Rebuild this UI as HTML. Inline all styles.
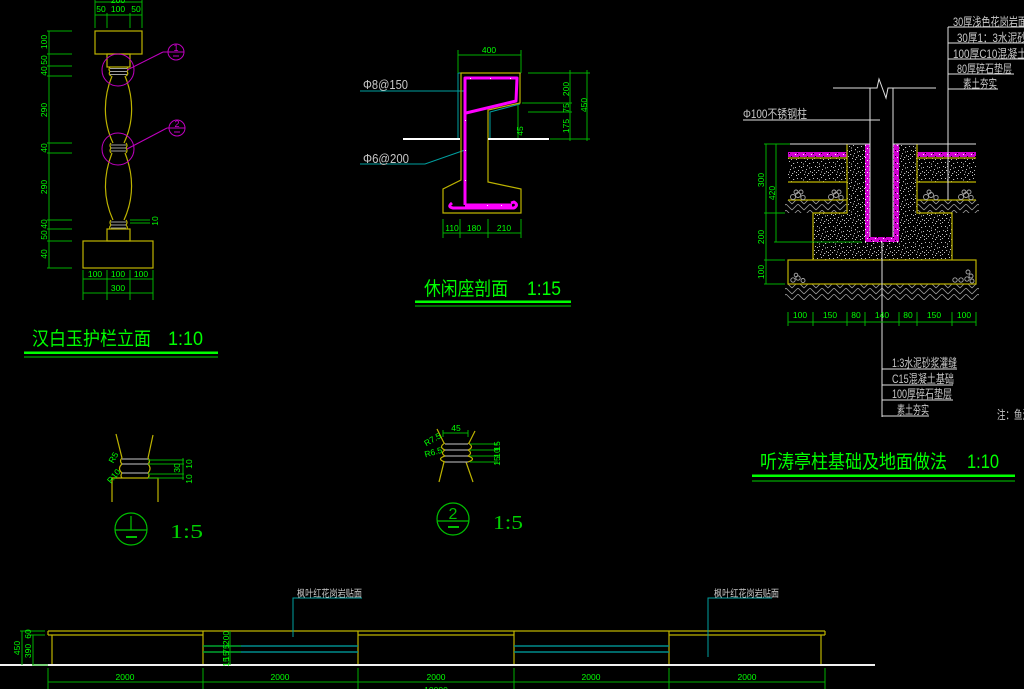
<!DOCTYPE html>
<html><head><meta charset="utf-8">
<style>
html,body{margin:0;padding:0;background:#000;width:1024px;height:689px;overflow:hidden}
svg{display:block}
text{font-family:"Liberation Sans","Noto Sans CJK SC",sans-serif}
.d{font-size:8.5px;fill:#00ff00}
.g{font-size:12px;fill:#c8c8c8}
.t{font-size:19px;fill:#00ff00}
.s{font-size:20px;fill:#00d000;font-family:"Liberation Serif",serif}
</style></head><body>
<svg width="1024" height="689" viewBox="0 0 1024 689" xmlns="http://www.w3.org/2000/svg">
<defs>
<pattern id="spk" width="16" height="16" patternUnits="userSpaceOnUse">
<rect width="16" height="16" fill="#000"/>
<g fill="#c4c4c4">
<rect x="1" y="2" width="1" height="1"/><rect x="5" y="1" width="1" height="1"/><rect x="9" y="3" width="1.2" height="1"/><rect x="13" y="2" width="1" height="1"/>
<rect x="3" y="6" width="1" height="1"/><rect x="7" y="5" width="1" height="1.2"/><rect x="11" y="7" width="1" height="1"/><rect x="15" y="6" width="1" height="1"/>
<rect x="2" y="10" width="1.2" height="1"/><rect x="6" y="9" width="1" height="1"/><rect x="10" y="11" width="1" height="1.2"/><rect x="14" y="10" width="1" height="1"/>
<rect x="4" y="14" width="1" height="1"/><rect x="8" y="13" width="1.2" height="1"/><rect x="12" y="15" width="1" height="1"/><rect x="0" y="12" width="1" height="1"/>
<rect x="12" y="12" width="1" height="1"/><rect x="5" y="11.5" width="1" height="1"/><rect x="9" y="7.5" width="1" height="1"/><rect x="3" y="3.5" width="1" height="1"/>
<rect x="14" y="14" width="1" height="1"/><rect x="7" y="15" width="1" height="1"/><rect x="1" y="7" width="1" height="1"/>
</g>
</pattern>
<pattern id="mspk" width="8" height="6" patternUnits="userSpaceOnUse">
<rect width="8" height="6" fill="#d000d0"/>
<rect x="1" y="1" width="1" height="1" fill="#fff"/><rect x="5" y="3" width="1" height="1" fill="#000"/><rect x="3" y="4" width="1" height="1" fill="#fff"/><rect x="7" y="0" width="1" height="1" fill="#000"/>
</pattern>
<pattern id="hat" width="12" height="6" patternUnits="userSpaceOnUse">
<rect width="12" height="6" fill="#000"/>
<path d="M0,6 L6,0 M6,0 L12,6 M-3,3 L0,0 M12,0 L15,3" stroke="#9a9a9a" stroke-width="0.8" fill="none"/>
</pattern>
</defs>
<rect width="1024" height="689" fill="#000"/>

<!-- ============ BALUSTER ============ -->
<g stroke="#bdb300" fill="none" stroke-width="1.2">
<rect x="95" y="31" width="47" height="23"/>
<rect x="107" y="54" width="23" height="13"/>
<path d="M112,76 C103,98 103,122 113,143"/>
<path d="M125,76 C134,98 134,122 124,143"/>
<path d="M112,153 C103,176 103,198 113,220"/>
<path d="M125,153 C134,176 134,198 124,220"/>
<rect x="107" y="229" width="23" height="12"/>
<rect x="83" y="241" width="70" height="27"/>
<path d="M110,67 Q108,69.5 110,71.5 Q108,74 111,76"/>
<path d="M127,67 Q129,69.5 127,71.5 Q129,74 126,76"/>
<path d="M111,143 Q109,145.5 111,148 Q109,150.5 111,153"/>
<path d="M126,143 Q128,145.5 126,148 Q128,150.5 126,153"/>
<path d="M111,220 Q109,222.5 111,225 Q109,227 110,229"/>
<path d="M126,220 Q128,222.5 126,225 Q128,227 127,229"/>
</g>
<g stroke="#a0a0a0" stroke-width="1">
<line x1="110" y1="68.5" x2="127" y2="68.5"/><line x1="110" y1="71.5" x2="127" y2="71.5"/><line x1="110" y1="74.5" x2="127" y2="74.5"/>
<line x1="111" y1="145" x2="126" y2="145"/><line x1="111" y1="148" x2="126" y2="148"/><line x1="111" y1="151" x2="126" y2="151"/>
<line x1="111" y1="222" x2="126" y2="222"/><line x1="111" y1="225" x2="126" y2="225"/><line x1="111" y1="228" x2="126" y2="228"/>
</g>
<g stroke="#00b000" stroke-width="1">
<line x1="49" y1="31" x2="49" y2="268"/>
<line x1="47" y1="31" x2="72" y2="31"/><line x1="47" y1="54" x2="72" y2="54"/><line x1="47" y1="66" x2="72" y2="66"/><line x1="47" y1="76" x2="72" y2="76"/>
<line x1="47" y1="143" x2="72" y2="143"/><line x1="47" y1="153" x2="72" y2="153"/><line x1="47" y1="220" x2="72" y2="220"/><line x1="47" y1="229" x2="72" y2="229"/>
<line x1="47" y1="241" x2="72" y2="241"/><line x1="47" y1="268" x2="72" y2="268"/>
<line x1="95" y1="2" x2="142" y2="2"/><line x1="95" y1="15" x2="142" y2="15"/>
<line x1="95" y1="0" x2="95" y2="28"/><line x1="142" y1="0" x2="142" y2="28"/>
<line x1="107" y1="13" x2="107" y2="28"/><line x1="130" y1="13" x2="130" y2="28"/>
<line x1="83" y1="270" x2="83" y2="300"/><line x1="153" y1="270" x2="153" y2="300"/>
<line x1="107" y1="270" x2="107" y2="300"/><line x1="130" y1="270" x2="130" y2="300"/>
<line x1="83" y1="279" x2="153" y2="279"/><line x1="83" y1="293" x2="153" y2="293"/>
<line x1="130" y1="220" x2="150" y2="220"/><line x1="130" y1="223" x2="150" y2="223"/>
</g>
<text class="d" x="118" y="3" text-anchor="middle">200</text>
<text class="d" x="101" y="12" text-anchor="middle">50</text>
<text class="d" x="118" y="12" text-anchor="middle">100</text>
<text class="d" x="136" y="12" text-anchor="middle">50</text>
<text class="d" x="95" y="277" text-anchor="middle">100</text>
<text class="d" x="118" y="277" text-anchor="middle">100</text>
<text class="d" x="141" y="277" text-anchor="middle">100</text>
<text class="d" x="118" y="291" text-anchor="middle">300</text>
<g class="d" text-anchor="middle">
<text transform="translate(47,42) rotate(-90)">100</text>
<text transform="translate(47,60) rotate(-90)">50</text>
<text transform="translate(47,71) rotate(-90)">40</text>
<text transform="translate(47,110) rotate(-90)">290</text>
<text transform="translate(47,148) rotate(-90)">40</text>
<text transform="translate(47,187) rotate(-90)">290</text>
<text transform="translate(47,224) rotate(-90)">40</text>
<text transform="translate(47,235) rotate(-90)">50</text>
<text transform="translate(47,254) rotate(-90)">40</text>
<text transform="translate(158,221) rotate(-90)">10</text>
</g>
<g stroke="#c000c0" fill="none" stroke-width="1">
<circle cx="118" cy="70" r="16"/>
<line x1="127" y1="70" x2="163" y2="52"/>
<line x1="163" y1="52" x2="184" y2="52"/>
<circle cx="176" cy="52" r="8"/>
<circle cx="118" cy="149" r="16"/>
<line x1="127" y1="149" x2="167" y2="128"/>
<line x1="167" y1="128" x2="185" y2="128"/>
<circle cx="177" cy="128" r="8"/>
<line x1="173" y1="56" x2="179" y2="56"/>
<line x1="174" y1="132" x2="180" y2="132"/>
</g>
<text x="176" y="51" font-size="9" fill="#d000d0" text-anchor="middle">1</text>
<text x="177" y="127" font-size="9" fill="#d000d0" text-anchor="middle">2</text>
<text class="t" x="32" y="345" textLength="119" lengthAdjust="spacingAndGlyphs">汉白玉护栏立面</text>
<text class="t" x="168" y="345" textLength="35" lengthAdjust="spacingAndGlyphs">1:10</text>
<rect x="24" y="351.5" width="194" height="2.5" fill="#00ff00"/>
<rect x="24" y="356.5" width="194" height="1" fill="#00d000"/>

<!-- ============ SEAT SECTION ============ -->
<g stroke="#00a0a0" fill="none" stroke-width="1">
<polyline points="458,139 458,73 521,73"/>
<polyline points="490,139 490,112 520,104"/>
<line x1="360" y1="91" x2="464" y2="91"/>
<polyline points="360,164 425,164 465,150"/>
</g>
<polygon points="461,73 520,73 520,103 488,110 488,182 521,189 521,213 443,213 443,189 461,180" stroke="#bdb300" fill="none" stroke-width="1.2"/>
<line x1="403" y1="139" x2="460" y2="139" stroke="#fff" stroke-width="2"/>
<line x1="488" y1="139" x2="549" y2="139" stroke="#fff" stroke-width="2"/>
<g stroke="#ff00ff" stroke-width="3" fill="none" stroke-linejoin="round">
<path d="M465,205 L465,78 L517,78 L516,101 L466,113"/>
<path d="M465,205 L512,205"/>
<path d="M452,203 q-5,4 1,5 L514,208 q5,-3 0,-6 l-3,1"/>
</g>
<g fill="#fff">
<rect x="470" y="78" width="1" height="1"/><rect x="490" y="78" width="1" height="1"/><rect x="510" y="78" width="1" height="1"/>
<rect x="465" y="120" width="1" height="1"/><rect x="465" y="150" width="1" height="1"/><rect x="465" y="180" width="1" height="1"/>
<rect x="487" y="205" width="1" height="1"/><rect x="501" y="205" width="1" height="1"/>
</g>
<text x="363" y="89" font-size="13" fill="#c8c8c8" textLength="45" lengthAdjust="spacingAndGlyphs">Φ8@150</text>
<text x="363" y="163" font-size="13" fill="#c8c8c8" textLength="46" lengthAdjust="spacingAndGlyphs">Φ6@200</text>
<g stroke="#00b000" stroke-width="1">
<line x1="458" y1="55" x2="521" y2="55"/>
<line x1="458" y1="50" x2="458" y2="73"/><line x1="521" y1="50" x2="521" y2="73"/>
<line x1="528" y1="73" x2="590" y2="73"/>
<line x1="522" y1="103" x2="572" y2="103"/>
<line x1="528" y1="112" x2="572" y2="112"/>
<line x1="550" y1="139" x2="590" y2="139"/>
<line x1="570" y1="70" x2="570" y2="141"/>
<line x1="587" y1="70" x2="587" y2="141"/>
<line x1="518" y1="105" x2="518" y2="138"/>
<line x1="443" y1="233" x2="521" y2="233"/>
<line x1="443" y1="219" x2="443" y2="238"/><line x1="460" y1="219" x2="460" y2="238"/>
<line x1="488" y1="219" x2="488" y2="238"/><line x1="521" y1="219" x2="521" y2="238"/>
</g>
<text class="d" x="489" y="53" text-anchor="middle">400</text>
<text class="d" x="452" y="231" text-anchor="middle">110</text>
<text class="d" x="474" y="231" text-anchor="middle">180</text>
<text class="d" x="504" y="231" text-anchor="middle">210</text>
<g class="d" text-anchor="middle">
<text transform="translate(569,89) rotate(-90)">200</text>
<text transform="translate(569,108) rotate(-90)">75</text>
<text transform="translate(569,126) rotate(-90)">175</text>
<text transform="translate(587,105) rotate(-90)">450</text>
<text transform="translate(523,131) rotate(-90)">45</text>
</g>
<text class="t" x="424" y="295" textLength="84" lengthAdjust="spacingAndGlyphs">休闲座剖面</text>
<text class="t" x="527" y="295" textLength="34" lengthAdjust="spacingAndGlyphs">1:15</text>
<rect x="415" y="300.5" width="156" height="2.5" fill="#00ff00"/>
<rect x="415" y="305.5" width="156" height="1" fill="#00d000"/>

<!-- ============ FOUNDATION ============ -->
<rect x="788" y="158" width="59" height="24" fill="url(#spk)"/>
<rect x="917" y="158" width="59" height="24" fill="url(#spk)"/>
<rect x="785" y="200" width="62" height="13" fill="url(#hat)"/>
<rect x="917" y="200" width="62" height="13" fill="url(#hat)"/>
<rect x="785" y="284" width="194" height="16" fill="url(#hat)"/>
<rect x="847" y="144" width="70" height="70" fill="url(#spk)"/>
<rect x="813" y="213" width="139" height="47" fill="url(#spk)"/>
<rect x="788" y="152" width="59" height="5" fill="url(#mspk)"/>
<rect x="917" y="152" width="59" height="5" fill="url(#mspk)"/>
<rect x="865" y="144" width="34" height="98" fill="url(#mspk)"/>
<rect x="870" y="144" width="23" height="93" fill="#000"/>
<g stroke="#bdb300" fill="none" stroke-width="1.2">
<line x1="788" y1="158" x2="847" y2="158"/><line x1="917" y1="158" x2="976" y2="158"/>
<line x1="788" y1="182" x2="847" y2="182"/><line x1="917" y1="182" x2="976" y2="182"/>
<line x1="788" y1="200" x2="847" y2="200"/><line x1="917" y1="200" x2="976" y2="200"/>
<polyline points="847,144 847,213 813,213 813,260"/>
<polyline points="917,144 917,213 952,213 952,260"/>
<rect x="788" y="260" width="188" height="24"/>
</g>
<g stroke="#a8a8a8" fill="none" stroke-width="0.9">
<circle cx="793" cy="197" r="2.5"/><circle cx="798" cy="195" r="2.5"/><circle cx="803" cy="197.5" r="2.2"/><circle cx="796" cy="192" r="2"/><circle cx="801" cy="192" r="2"/>
<circle cx="831" cy="197" r="2.5"/><circle cx="836" cy="195" r="2.5"/><circle cx="841" cy="197.5" r="2.2"/><circle cx="834" cy="192" r="2"/><circle cx="839" cy="192" r="2"/>
<circle cx="926" cy="197" r="2.5"/><circle cx="931" cy="195" r="2.5"/><circle cx="936" cy="197.5" r="2.2"/><circle cx="929" cy="192" r="2"/>
<circle cx="961" cy="197" r="2.5"/><circle cx="966" cy="195" r="2.5"/><circle cx="971" cy="197.5" r="2.2"/><circle cx="964" cy="192" r="2"/><circle cx="969" cy="192" r="2"/>
<circle cx="793" cy="280" r="2.2"/><circle cx="798" cy="278" r="2.2"/><circle cx="803" cy="280.5" r="2"/><circle cx="796" cy="275" r="1.8"/>
<circle cx="955" cy="280" r="2.2"/><circle cx="961" cy="280" r="2.2"/><circle cx="967" cy="279" r="2.2"/><circle cx="971" cy="276" r="2"/><circle cx="968" cy="272" r="2"/><circle cx="972" cy="281" r="2"/>
</g>
<g stroke="#e0e0e0" fill="none" stroke-width="1">
<line x1="788" y1="144" x2="870" y2="144"/><line x1="893" y1="144" x2="976" y2="144"/>
<line x1="870" y1="88" x2="870" y2="237"/><line x1="893" y1="88" x2="893" y2="237"/>
<polyline points="833,88 877,88 879,79 886,98 888,88 936,88"/>
<line x1="743" y1="120" x2="880" y2="120"/>
<line x1="948" y1="27" x2="948" y2="200"/>
<line x1="948" y1="27" x2="1024" y2="27"/>
<line x1="948" y1="43" x2="1024" y2="43"/>
<line x1="948" y1="59" x2="1024" y2="59"/>
<line x1="948" y1="74" x2="1014" y2="74"/>
<line x1="948" y1="89" x2="998" y2="89"/>
<line x1="882" y1="242" x2="882" y2="417"/>
<line x1="882" y1="369" x2="957" y2="369"/>
<line x1="882" y1="385" x2="953" y2="385"/>
<line x1="882" y1="400" x2="953" y2="400"/>
<line x1="882" y1="416" x2="929" y2="416"/>
</g>
<text class="g" x="743" y="118" textLength="64" lengthAdjust="spacingAndGlyphs">Φ100不锈钢柱</text>
<text class="g" x="953" y="26" textLength="74" lengthAdjust="spacingAndGlyphs">30厚浅色花岗岩面</text>
<text class="g" x="957" y="42" textLength="70" lengthAdjust="spacingAndGlyphs">30厚1：3水泥砂</text>
<text class="g" x="953" y="58" textLength="74" lengthAdjust="spacingAndGlyphs">100厚C10混凝土</text>
<text class="g" x="957" y="73" textLength="55" lengthAdjust="spacingAndGlyphs">80厚碎石垫层</text>
<text class="g" x="963" y="88" textLength="34" lengthAdjust="spacingAndGlyphs">素土夯实</text>
<text class="g" x="892" y="367" textLength="65" lengthAdjust="spacingAndGlyphs">1:3水泥砂浆灌缝</text>
<text class="g" x="892" y="383" textLength="62" lengthAdjust="spacingAndGlyphs">C15混凝土基础</text>
<text class="g" x="892" y="398" textLength="60" lengthAdjust="spacingAndGlyphs">100厚碎石垫层</text>
<text class="g" x="897" y="414" textLength="32" lengthAdjust="spacingAndGlyphs">素土夯实</text>
<text class="g" x="997" y="419" textLength="34" lengthAdjust="spacingAndGlyphs">注：鱼池</text>
<g stroke="#00b000" stroke-width="1">
<line x1="766" y1="144" x2="766" y2="284"/>
<line x1="776" y1="144" x2="776" y2="242"/>
<line x1="764" y1="144" x2="790" y2="144"/>
<line x1="764" y1="213" x2="785" y2="213"/>
<line x1="764" y1="260" x2="785" y2="260"/>
<line x1="764" y1="284" x2="785" y2="284"/>
<line x1="774" y1="242" x2="862" y2="242"/>
<line x1="788" y1="322" x2="976" y2="322"/>
<line x1="788" y1="312" x2="788" y2="326"/><line x1="813" y1="312" x2="813" y2="326"/>
<line x1="847" y1="312" x2="847" y2="326"/><line x1="865" y1="312" x2="865" y2="326"/>
<line x1="899" y1="312" x2="899" y2="326"/><line x1="917" y1="312" x2="917" y2="326"/>
<line x1="952" y1="312" x2="952" y2="326"/><line x1="976" y1="312" x2="976" y2="326"/>
</g>
<g class="d" text-anchor="middle">
<text transform="translate(764,180) rotate(-90)">300</text>
<text transform="translate(775,193) rotate(-90)">420</text>
<text transform="translate(764,237) rotate(-90)">200</text>
<text transform="translate(764,272) rotate(-90)">100</text>
<text x="800" y="318">100</text>
<text x="830" y="318">150</text>
<text x="856" y="318">80</text>
<text x="882" y="318">140</text>
<text x="908" y="318">80</text>
<text x="934" y="318">150</text>
<text x="964" y="318">100</text>
</g>
<text class="t" x="760" y="468" textLength="187" lengthAdjust="spacingAndGlyphs">听涛亭柱基础及地面做法</text>
<text class="t" x="967" y="468" textLength="32" lengthAdjust="spacingAndGlyphs">1:10</text>
<rect x="752" y="474.5" width="263" height="2.5" fill="#00ff00"/>
<rect x="752" y="480.5" width="263" height="1" fill="#00d000"/>

<!-- ============ DETAIL 1 ============ -->
<g stroke="#bdb300" fill="none" stroke-width="1.2">
<line x1="116" y1="434" x2="122" y2="458"/>
<line x1="153" y1="435" x2="148" y2="458"/>
<path d="M122,458 Q119,461 122,464 Q117,468.5 122,473 Q120,475.5 122,478"/>
<path d="M148,458 Q151,461 148,464 Q152,468.5 148,473 Q150,475.5 148,478"/>
<polyline points="112,502 112,478 158,478 158,502"/>
</g>
<g stroke="#a0a0a0" stroke-width="1.2">
<line x1="122" y1="459" x2="148" y2="459"/><line x1="122" y1="464" x2="148" y2="464"/><line x1="122" y1="473" x2="148" y2="473"/>
</g>
<g stroke="#00b000" stroke-width="1">
<line x1="148" y1="460" x2="184" y2="460"/><line x1="148" y1="464" x2="184" y2="464"/>
<line x1="148" y1="474" x2="184" y2="474"/><line x1="148" y1="478" x2="184" y2="478"/>
<line x1="183" y1="458" x2="183" y2="480"/>
</g>
<g class="d" text-anchor="middle">
<text transform="translate(192,464) rotate(-90)">10</text>
<text transform="translate(180,468) rotate(-90)">30</text>
<text transform="translate(192,479) rotate(-90)">10</text>
<text transform="translate(116,459) rotate(-60)">R5</text>
<text transform="translate(116,478) rotate(-50)">R10</text>
</g>
<circle cx="131" cy="529" r="16" stroke="#00c000" fill="none" stroke-width="1.2"/>
<line x1="115" y1="530" x2="147" y2="530" stroke="#00c000" stroke-width="1.2"/>
<line x1="131" y1="516" x2="131" y2="530" stroke="#00c000" stroke-width="1.2"/>
<line x1="126" y1="537" x2="137" y2="537" stroke="#00c000" stroke-width="2"/>
<text class="s" x="170" y="538" textLength="33" lengthAdjust="spacingAndGlyphs">1:5</text>

<!-- ============ DETAIL 2 ============ -->
<g stroke="#bdb300" fill="none" stroke-width="1.2">
<line x1="437" y1="429" x2="444" y2="443"/>
<line x1="475" y1="431" x2="469" y2="443"/>
<line x1="444" y1="462" x2="439" y2="482"/>
<line x1="466" y1="462" x2="473" y2="482"/>
<path d="M445,443 Q438,447 445,450 Q440,453 445,456 Q436,459 445,462"/>
<path d="M468,443 Q475,447 468,450 Q473,453 468,456 Q477,459 468,462"/>
</g>
<g stroke="#a0a0a0" stroke-width="1.2">
<line x1="445" y1="444" x2="468" y2="444"/><line x1="445" y1="450" x2="468" y2="450"/>
<line x1="445" y1="456" x2="468" y2="456"/><line x1="445" y1="462" x2="468" y2="462"/>
</g>
<g stroke="#00b000" stroke-width="1">
<line x1="443" y1="433" x2="468" y2="433"/>
<line x1="443" y1="430" x2="443" y2="437"/><line x1="468" y1="430" x2="468" y2="437"/>
<line x1="470" y1="444" x2="498" y2="444"/><line x1="470" y1="450" x2="498" y2="450"/>
<line x1="470" y1="456" x2="498" y2="456"/><line x1="470" y1="462" x2="498" y2="462"/>
</g>
<g class="d" text-anchor="middle">
<text x="456" y="431">45</text>
<text transform="translate(500,446) rotate(-90)">15</text>
<text transform="translate(500,453) rotate(-90)">10</text>
<text transform="translate(500,461) rotate(-90)">15</text>
<text transform="translate(434,442) rotate(-30)">R7.5</text>
<text transform="translate(434,455) rotate(-15)">R6.5</text>
</g>
<circle cx="453" cy="519" r="16" stroke="#00c000" fill="none" stroke-width="1.2"/>
<line x1="437" y1="521" x2="469" y2="521" stroke="#00c000" stroke-width="1.2"/>
<text x="453" y="519" font-size="16" fill="#00c000" text-anchor="middle" font-family="Liberation Serif, serif">2</text>
<line x1="448" y1="527" x2="459" y2="527" stroke="#00c000" stroke-width="2"/>
<text class="s" x="493" y="529" textLength="30" lengthAdjust="spacingAndGlyphs">1:5</text>

<!-- ============ ELEVATION ============ -->
<g stroke="#bdb300" fill="none" stroke-width="1.2">
<line x1="48" y1="631" x2="825" y2="631"/>
<line x1="48" y1="635" x2="203" y2="635"/>
<line x1="358" y1="635" x2="514" y2="635"/>
<line x1="669" y1="635" x2="825" y2="635"/>
<line x1="48" y1="631" x2="48" y2="635"/>
<line x1="825" y1="631" x2="825" y2="635"/>
<line x1="52" y1="635" x2="52" y2="665"/>
<line x1="203" y1="631" x2="203" y2="665"/>
<line x1="358" y1="631" x2="358" y2="665"/>
<line x1="514" y1="631" x2="514" y2="665"/>
<line x1="669" y1="631" x2="669" y2="665"/>
<line x1="821" y1="635" x2="821" y2="665"/>
</g>
<g stroke="#008c8c" stroke-width="1.5">
<line x1="203" y1="646" x2="358" y2="646"/><line x1="203" y1="652" x2="358" y2="652"/>
<line x1="514" y1="646" x2="669" y2="646"/><line x1="514" y1="652" x2="669" y2="652"/>
</g>
<g stroke="#00a0a0" stroke-width="1" fill="none">
<polyline points="362,598 293,598 293,637"/>
<polyline points="772,598 708,598 708,657"/>
</g>
<text class="g" x="297" y="597" textLength="65" lengthAdjust="spacingAndGlyphs" style="font-size:10px">枫叶红花岗岩贴面</text>
<text class="g" x="714" y="597" textLength="65" lengthAdjust="spacingAndGlyphs" style="font-size:10px">枫叶红花岗岩贴面</text>
<line x1="0" y1="665" x2="875" y2="665" stroke="#f0f0f0" stroke-width="2"/>
<g stroke="#00b000" stroke-width="1">
<line x1="48" y1="682" x2="825" y2="682"/>
<line x1="48" y1="668" x2="48" y2="689"/><line x1="203" y1="668" x2="203" y2="689"/>
<line x1="358" y1="668" x2="358" y2="689"/><line x1="514" y1="668" x2="514" y2="689"/>
<line x1="669" y1="668" x2="669" y2="689"/><line x1="825" y1="668" x2="825" y2="689"/>
<line x1="22" y1="631" x2="22" y2="665"/>
<line x1="33" y1="635" x2="33" y2="665"/>
<line x1="20" y1="631" x2="45" y2="631"/>
<line x1="28" y1="635" x2="45" y2="635"/>
<line x1="32" y1="665" x2="48" y2="665"/>
<line x1="230" y1="631" x2="230" y2="665"/>
<line x1="203" y1="646" x2="241" y2="646"/><line x1="203" y1="652" x2="241" y2="652"/>
</g>
<g class="d" text-anchor="middle">
<text x="125" y="680">2000</text>
<text x="280" y="680">2000</text>
<text x="436" y="680">2000</text>
<text x="591" y="680">2000</text>
<text x="747" y="680">2000</text>
<text x="436" y="693">10000</text>
<text transform="translate(20,648) rotate(-90)">450</text>
<text transform="translate(31,651) rotate(-90)">390</text>
<text transform="translate(31,634) rotate(-90)">60</text>
<text transform="translate(229,638) rotate(-90)">200</text>
<text transform="translate(229,649) rotate(-90)">75</text>
<text transform="translate(229,656) rotate(-90)">15</text>
<text transform="translate(229,662) rotate(-90)">15</text>
</g>
</svg>
</body></html>
